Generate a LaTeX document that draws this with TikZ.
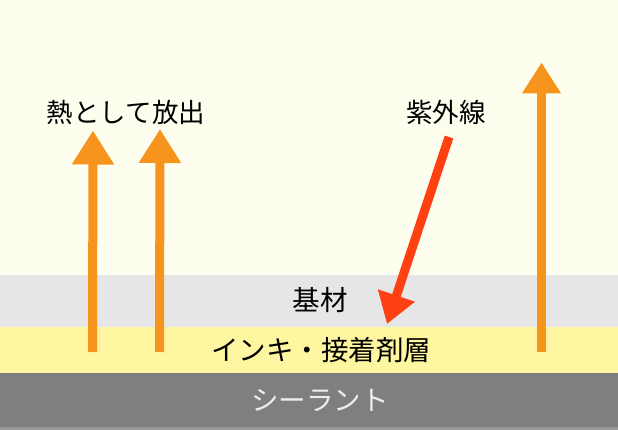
\documentclass[tikz,border=0pt]{standalone}
\usepackage{fontspec}
\setmainfont{Noto Sans CJK JP}
\usetikzlibrary{arrows.meta}
\definecolor{bgcream}{HTML}{FEFEEE}
\definecolor{basegray}{HTML}{E6E6E6}
\definecolor{inkyellow}{HTML}{FEF6A0}
\definecolor{sealgray}{HTML}{7F7F7F}
\definecolor{sealedge}{HTML}{9A9A9A}
\definecolor{heatorange}{HTML}{F7941E}
\definecolor{uvred}{HTML}{FF4012}
\tikzset{
  lbl/.style={inner sep=0pt, font=\fontsize{26.5}{26.5}\selectfont, text=black},
  layerlbl/.style={lbl, font=\fontsize{27.5}{27.5}\selectfont},
  heatarrow/.style={draw=heatorange, line width=9pt, -{Triangle[length=34pt,width=40pt]}},
  uvarrow/.style={draw=uvred, line width=9pt, -{Triangle[length=30pt,width=37pt]}},
}
\begin{document}
\begin{tikzpicture}[x=1pt,y=-1pt]
\useasboundingbox (0,0) rectangle (618,430);
\fill[bgcream] (0,0) rectangle (618,430);
\fill[basegray] (0,275) rectangle (618,326.5);
\fill[inkyellow] (0,326.5) rectangle (618,373);
\fill[sealgray] (0,373) rectangle (618,430);
\fill[sealedge] (0,427) rectangle (618,430);

\node[lbl] (heat) at (126,112) {熱として放出};
\node[lbl] (uv) at (446,112) {紫外線};
\node[layerlbl] (base) at (320,300) {基材};
\node[layerlbl] (ink) at (321,350) {インキ・接着剤層};
\node[layerlbl, text=white!93!black] (seal) at (320,400) {シーラント};

\coordinate (h1s) at (92.5,352);
\coordinate (h1e) at (93,130.5);
\coordinate (h2s) at (159.5,352);
\coordinate (h2e) at (160,129);
\coordinate (h3s) at (541.5,352);
\coordinate (h3e) at (541.5,62.5);
\coordinate (uvs) at (449,137);
\coordinate (uve) at (387,324);

\draw[heatarrow] (h1s) -- (h1e);
\draw[heatarrow] (h2s) -- (h2e);
\draw[heatarrow, -{Triangle[length=31pt,width=37pt]}] (h3s) -- (h3e);
\draw[uvarrow] (uvs) -- (uve);
\end{tikzpicture}
\end{document}
